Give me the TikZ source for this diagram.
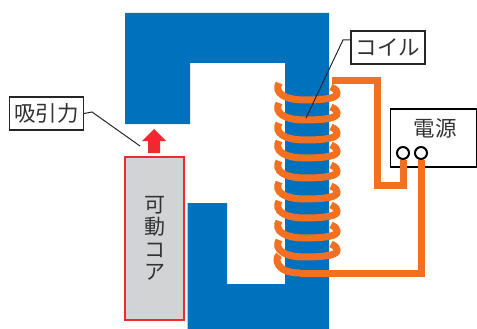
\documentclass[tikz,border=0pt]{standalone}
\usepackage{fontspec}
\setmainfont{Noto Sans CJK JP}
\usetikzlibrary{positioning}
\definecolor{coreblue}{HTML}{0071BC}
\definecolor{coilorange}{HTML}{F37021}
\definecolor{pullred}{HTML}{EE2A2E}
\definecolor{coregray}{HTML}{D1D3D4}
\definecolor{inkgray}{HTML}{333333}
\tikzset{
  callout/.style={
    draw=black!85,
    line width=1.3pt,
    fill=white,
    inner sep=0pt,
    minimum height=33pt,
    font=\fontsize{21.5}{21.5}\selectfont,
    text=inkgray
  },
  leader/.style={draw=black!85, line width=1pt},
  wire/.style={draw=coilorange, line width=7pt, line join=miter},
  turn/.style={draw=coilorange, line width=7pt},
  terminal/.style={
    circle,
    draw=black,
    line width=2pt,
    fill=white,
    minimum size=12pt,
    inner sep=0pt
  }
}

\begin{document}
\begin{tikzpicture}[x=1pt,y=-1pt]
  \useasboundingbox (0,0) rectangle (477,329);

  % yoke
  \fill[coreblue] (187.5,329) -- (187.5,203) -- (227,203) -- (227,284) -- (285,284) -- (285,63)
    -- (190,63) -- (190,124) -- (125,124) -- (125,13) -- (329,13) -- (329,329) -- cycle;

  % plunger
  \node[draw=pullred, line width=2pt, fill=coregray, minimum width=59pt, minimum height=163pt,
    inner sep=0pt, align=center, text=inkgray, font=\fontsize{21}{22.5}\selectfont] (plunger) at (154.5,238.5) {可\\動\\コ\\ア};
  \fill[pullred] (154,129) -- (166,141) -- (160,141) -- (160,153) -- (148,153) -- (148,141) -- (142,141) -- cycle;

  % supply
  \node[draw=black, line width=1.6pt, fill=white, minimum width=86pt, minimum height=58pt,
    inner sep=0pt] (supply) at (433.5,138) {};
  \node[text=inkgray, font=\fontsize{21.5}{21.5}\selectfont, inner sep=0pt] (supplytext) at (435,128) {電源};
  \node[terminal] (termA) at (403,153) {};
  \node[terminal] (termB) at (421,153) {};

  % wires
  \coordinate (wireA) at (332,81);
  \coordinate (wireB) at (300,273);
  \draw[wire] (wireA) -- (377,81) -- (377,185) -- (403,185) -- (termA.south);
  \draw[wire] (termB.south) -- (421,273) -- (wireB);

  % coil
  \foreach \y in {100,120,140,158,178,199,218,238,257}{
    \draw[turn] (279,\y-17) .. controls (274,\y-8) and (283,\y) .. (305,\y)
      .. controls (325,\y) and (338,\y-2) .. (337,\y-7)
      .. controls (336.5,\y-11) and (333,\y-12) .. (331,\y-13);
  }
  \draw[turn] (279,255) .. controls (275,258) and (275,273) .. (300,273);

  % callouts
  \node[callout, minimum width=74pt] (pulltag) at (46.5,113.5) {吸引力};
  \node[callout, minimum width=74pt] (coiltag) at (388,47.5) {コイル};
  \coordinate (pullend) at (140,146);
  \coordinate (coilend) at (306,118);
  \draw[leader] (pulltag.east) -- (92,112) -- (pullend);
  \draw[leader] (coiltag.west |- 0,40) -- (343,40) -- (coilend);
\end{tikzpicture}
\end{document}
